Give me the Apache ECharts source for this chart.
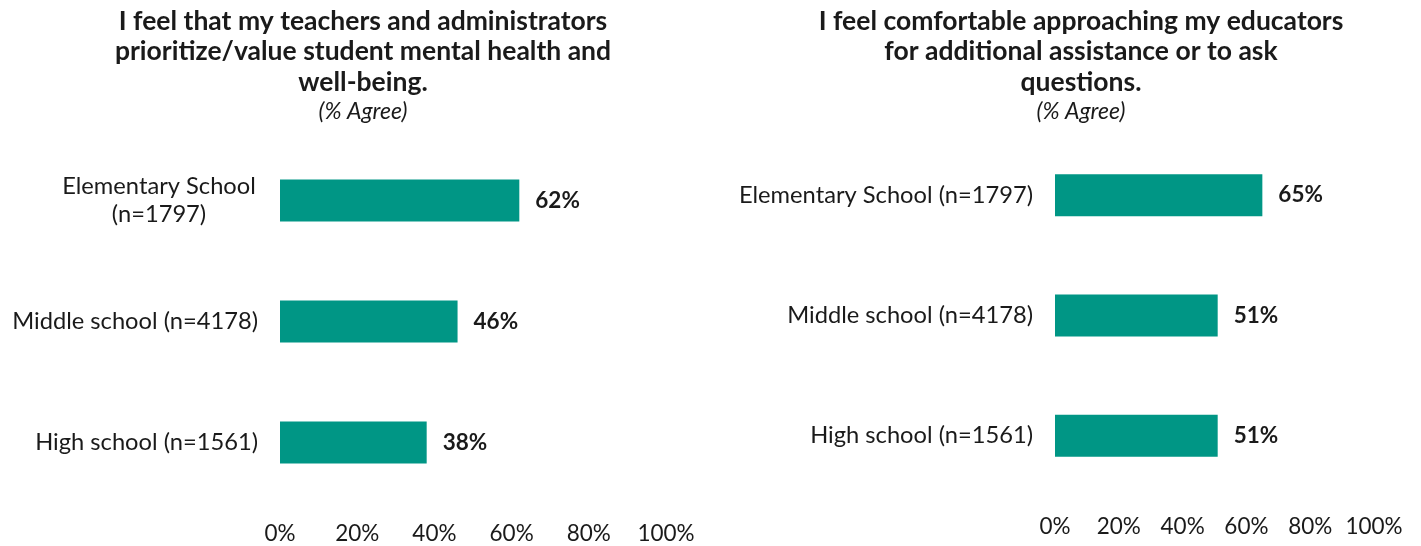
<!DOCTYPE html>
<html>
<head>
<meta charset="utf-8">
<script src="https://cdn.jsdelivr.net/npm/echarts@6/dist/echarts.min.js"></script>
<style>
html,body{margin:0;padding:0;background:#fff;}
#chart{width:1421px;height:546px;}
</style>
</head>
<body>
<div id="chart"></div>
<script>
const leftCategories = ["Elementary School\n(n=1797)", "Middle school (n=4178)", "High school (n=1561)"];
const leftValues = [62, 46, 38];
const rightCategories = ["Elementary School (n=1797)", "Middle school (n=4178)", "High school (n=1561)"];
const rightValues = [65, 51, 51];
const leftTitle = "I feel that my teachers and administrators\nprioritize/value student mental health and\nwell-being.";
const rightTitle = "I feel comfortable approaching my educators\nfor additional assistance or to ask\nquestions.";
const subTitle = "(% Agree)";
const tickMax = 100;
const tickStep = 20;

const FONT = 'Lato';
const TEXT = '#1a1a1a';
const BAR = '#009685';

const chart = echarts.init(document.getElementById('chart'), null, {renderer: 'canvas'});

function catLabelFormatter(v) {
  const lines = v.split('\n');
  if (lines.length === 1) return v;
  return lines.map(l => '{c|' + l + '}').join('\n');
}

function xAxisDef(gridIndex) {
  return {
    type: 'value', gridIndex: gridIndex, min: 0, max: tickMax, interval: tickStep,
    axisLine: {show: false}, axisTick: {show: false}, splitLine: {show: false},
    axisLabel: {formatter: '{value}%', fontFamily: FONT, fontSize: 22.5, color: TEXT, margin: 19}
  };
}
function yAxisDef(gridIndex, cats) {
  return {
    type: 'category', gridIndex: gridIndex, data: cats, inverse: true,
    axisLine: {show: false}, axisTick: {show: false},
    axisLabel: {
      fontFamily: FONT, fontSize: 23.7, color: TEXT, margin: 22, lineHeight: 28,
      formatter: catLabelFormatter,
      rich: {c: {fontFamily: FONT, fontSize: 23.7, color: TEXT, width: 198, align: 'center', lineHeight: 28}}
    }
  };
}
function seriesDef(idx, vals) {
  return {
    type: 'bar', xAxisIndex: idx, yAxisIndex: idx, data: vals, barWidth: 42,
    itemStyle: {color: BAR},
    label: {show: true, position: 'right', distance: 16, formatter: '{c}%',
      fontFamily: FONT, fontSize: 22.5, fontWeight: 'bold', color: TEXT},
    silent: true, animation: false
  };
}

chart.setOption({
  backgroundColor: '#ffffff',
  animation: false,
  title: [
    {text: leftTitle, subtext: subTitle, left: 358, top: 1, textAlign: 'center', itemGap: 1,
     textStyle: {fontFamily: FONT, fontSize: 26.5, fontWeight: 'bold', color: TEXT, lineHeight: 30.5},
     subtextStyle: {fontFamily: FONT, fontSize: 23, fontStyle: 'italic', color: TEXT, lineHeight: 26}},
    {text: rightTitle, subtext: subTitle, left: 1076, top: 1, textAlign: 'center', itemGap: 1,
     textStyle: {fontFamily: FONT, fontSize: 26.5, fontWeight: 'bold', color: TEXT, lineHeight: 30.5},
     subtextStyle: {fontFamily: FONT, fontSize: 23, fontStyle: 'italic', color: TEXT, lineHeight: 26}}
  ],
  grid: [
    {left: 280, width: 386, top: 140, height: 363, containLabel: false},
    {left: 1055, width: 319, top: 135, height: 361, containLabel: false}
  ],
  xAxis: [xAxisDef(0), xAxisDef(1)],
  yAxis: [yAxisDef(0, leftCategories), yAxisDef(1, rightCategories)],
  series: [seriesDef(0, leftValues), seriesDef(1, rightValues)]
});
</script>
</body>
</html>
